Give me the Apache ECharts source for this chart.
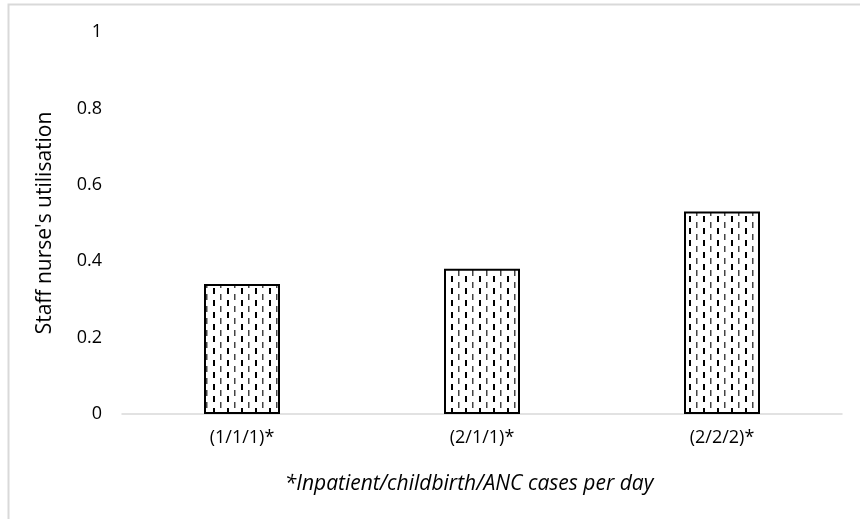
<!DOCTYPE html>
<html>
<head>
<meta charset="utf-8">
<script src="https://cdn.jsdelivr.net/npm/echarts@6/dist/echarts.min.js"></script>
<style>
    html, body { margin: 0; padding: 0; background: #fff; }
    #chart { width: 860px; height: 519px; }
</style>
</head>
<body>
<div id="chart"></div>
<script>
const categories = ['(1/1/1)*', '(2/1/1)*', '(2/2/2)*'];
const utilisation = [0.34, 0.38, 0.53];
const yTicks = [0, 0.2, 0.4, 0.6, 0.8, 1];

// dashed vertical fill, like the Excel pattern
function makePattern() {
    const c = document.createElement('canvas');
    c.width = 14;
    c.height = 12;
    const ctx = c.getContext('2d');
    ctx.fillStyle = '#fff';
    ctx.fillRect(0, 0, 14, 12);
    ctx.fillStyle = '#000';
    ctx.fillRect(3, 0, 2, 6);
    ctx.fillStyle = '#444';
    ctx.fillRect(10, 6, 1.5, 6);
    return c;
}

const chart = echarts.init(document.getElementById('chart'), null, { renderer: 'canvas' });
const font = 'Open Sans';

const option = {
    backgroundColor: '#fff',
    animation: false,
    graphic: [{
        type: 'rect',
        shape: { x: 8.5, y: 4.5, width: 900, height: 600 },
        style: { fill: 'none', stroke: '#d9d9d9', lineWidth: 2 },
        silent: true
    }],
    grid: { left: 122, right: 18, top: 32, bottom: 105 },
    xAxis: {
        type: 'category',
        data: categories,
        name: '*Inpatient/childbirth/ANC cases per day',
        nameLocation: 'middle',
        nameGap: 70,
        nameTextStyle: {
            fontFamily: font, fontStyle: 'italic', fontSize: 21, color: '#000',
            verticalAlign: 'middle', padding: [0, 26, 0, 0]
        },
        axisLine: { lineStyle: { color: '#d9d9d9', width: 1.5 } },
        axisTick: { show: false },
        axisLabel: { fontFamily: font, fontSize: 18, color: '#000', margin: 15 }
    },
    yAxis: {
        type: 'value',
        min: 0,
        max: 1,
        interval: 0.2,
        name: "Staff nurse's utilisation",
        nameLocation: 'middle',
        nameGap: 77,
        nameTextStyle: { fontFamily: font, fontSize: 21, color: '#000', verticalAlign: 'middle' },
        axisLine: { show: false },
        axisTick: { show: false },
        splitLine: { show: false },
        axisLabel: {
            fontFamily: font, fontSize: 18, color: '#000', margin: 20,
            formatter: function (v) {
                return yTicks.indexOf(Math.round(v * 10) / 10) >= 0 ? String(Math.round(v * 10) / 10) : '';
            }
        }
    },
    series: [{
        type: 'bar',
        data: utilisation,
        barWidth: 76,
        itemStyle: {
            color: { image: makePattern(), repeat: 'repeat' },
            borderColor: '#000',
            borderWidth: 2
        }
    }]
};

chart.setOption(option);
</script>
</body>
</html>
